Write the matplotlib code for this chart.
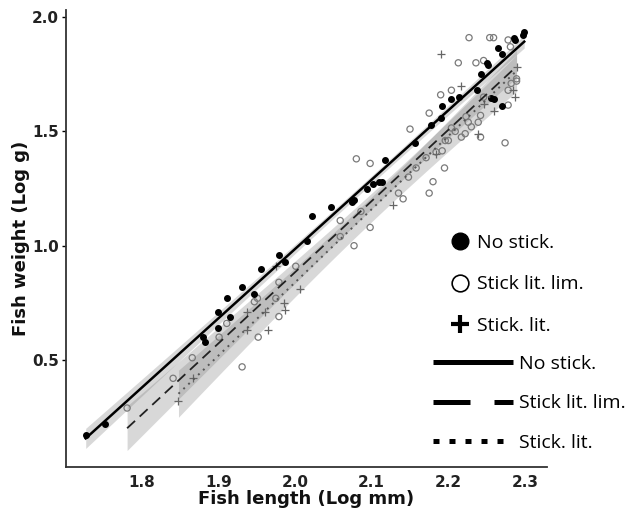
import numpy as np
import matplotlib.pyplot as plt
from matplotlib.lines import Line2D

# No stick. (filled circles)
len_nostick = [1.727, 1.752, 1.880, 1.883, 1.900, 1.900, 1.911, 1.915, 1.931, 1.947,
               1.956, 1.979, 1.987, 2.015, 2.022, 2.047, 2.075, 2.077, 2.094, 2.102,
               2.110, 2.114, 2.118, 2.157, 2.178, 2.190, 2.192, 2.204, 2.214, 2.238,
               2.242, 2.250, 2.252, 2.256, 2.259, 2.265, 2.270, 2.270, 2.286, 2.287,
               2.297, 2.299]
wt_nostick = [0.17, 0.22, 0.60, 0.58, 0.71, 0.64, 0.77, 0.69, 0.82, 0.79,
              0.90, 0.96, 0.93, 1.02, 1.13, 1.17, 1.19, 1.20, 1.25, 1.27,
              1.28, 1.28, 1.375, 1.45, 1.53, 1.56, 1.61, 1.64, 1.65, 1.68,
              1.75, 1.80, 1.79, 1.645, 1.64, 1.865, 1.84, 1.61, 1.91, 1.90,
              1.92, 1.935]

# Stick lit. lim. (open circles)
len_lim = [1.781, 1.841, 1.866, 1.901, 1.911, 1.931, 1.947, 1.951, 1.952, 1.975,
           1.979, 1.979, 2.001, 2.059, 2.059, 2.077, 2.098, 2.080, 2.098, 2.086,
           2.135, 2.141, 2.148, 2.150, 2.158, 2.175, 2.180, 2.171, 2.195, 2.184,
           2.192, 2.196, 2.200, 2.190, 2.204, 2.175, 2.213, 2.227, 2.236, 2.246,
           2.254, 2.259, 2.278, 2.281, 2.289, 2.289, 2.282, 2.278, 2.274, 2.242,
           2.230, 2.222, 2.217, 2.226, 2.239, 2.242, 2.223, 2.204, 2.209, 2.246,
           2.278]
wt_lim = [0.29, 0.42, 0.51, 0.60, 0.66, 0.47, 0.755, 0.77, 0.60, 0.77,
          0.84, 0.69, 0.91, 1.11, 1.04, 1.00, 1.08, 1.38, 1.36, 1.15,
          1.23, 1.205, 1.30, 1.51, 1.34, 1.23, 1.28, 1.385, 1.34, 1.41,
          1.415, 1.46, 1.46, 1.66, 1.68, 1.58, 1.80, 1.91, 1.80, 1.81,
          1.91, 1.91, 1.90, 1.87, 1.73, 1.72, 1.71, 1.68, 1.45, 1.475,
          1.52, 1.49, 1.475, 1.54, 1.54, 1.57, 1.565, 1.515, 1.50, 1.65,
          1.615]

# Stick. lit. (crosses)
len_lit = [1.848, 1.867, 1.938, 1.938, 1.961, 1.965, 1.975, 1.985, 1.987, 2.007,
           2.128, 2.184, 2.191, 2.217, 2.239, 2.246, 2.260, 2.285, 2.287, 2.289]
wt_lit = [0.32, 0.42, 0.71, 0.63, 0.71, 0.63, 0.91, 0.75, 0.72, 0.81,
          1.18, 1.40, 1.84, 1.70, 1.49, 1.62, 1.59, 1.68, 1.65, 1.78]

xticks = [1.8, 1.9, 2.0, 2.1, 2.2, 2.3]
yticks = [0.5, 1.0, 1.5, 2.0]
labels = ['No stick.', 'Stick lit. lim.', 'Stick. lit.']


def lm_band(x, y):
    x = np.asarray(x)
    y = np.asarray(y)
    b, a = np.polyfit(x, y, 1)
    xs = np.linspace(x.min(), x.max(), 100)
    n = len(x)
    s = np.sqrt(np.sum((y - (a + b * x)) ** 2) / (n - 2))
    se = s * np.sqrt(1 / n + (xs - x.mean()) ** 2 / np.sum((x - x.mean()) ** 2))
    return xs, a + b * xs, 1.99 * se


fig = plt.figure(figsize=(6.37, 5.16), dpi=100)
ax = fig.add_axes([66 / 637, 49 / 516, 481 / 637, 457 / 516])

groups = [(len_nostick, wt_nostick, dict(color='black', lw=1.8, ls='-')),
          (len_lim, wt_lim, dict(color='#222222', lw=1.3, dashes=(6, 3.5))),
          (len_lit, wt_lit, dict(color='#555555', lw=1.4, dashes=(1, 2.5)))]
for x, y, style in groups:
    xs, yh, ci = lm_band(x, y)
    ax.fill_between(xs, yh - ci, yh + ci, color='grey', alpha=0.3, lw=0, zorder=1)

ax.scatter(len_lim, wt_lim, s=20, facecolors='none', edgecolors='#7a7a7a', linewidths=0.9, zorder=2)
ax.scatter(len_lit, wt_lit, s=40, marker='+', color='#666666', linewidths=0.9, zorder=2)
ax.scatter(len_nostick, wt_nostick, s=16, color='black', zorder=3)

for x, y, style in groups:
    xs, yh, ci = lm_band(x, y)
    ax.plot(xs, yh, zorder=4, **style)

ax.set_xlim(1.7013, 2.3287)
ax.set_ylim(0.032, 2.031)
ax.set_xticks(xticks)
ax.set_xticklabels([f'{v:.1f}' for v in xticks], fontweight='bold', fontsize=11, color='#222222')
ax.set_yticks(yticks)
ax.set_yticklabels([f'{v:.1f}' for v in yticks], fontweight='bold', fontsize=11, color='#222222')
ax.tick_params(axis='x', length=0, pad=6)
ax.tick_params(axis='y', length=3, width=1, pad=2)
for side in ['top', 'right']:
    ax.spines[side].set_visible(False)
for side in ['left', 'bottom']:
    ax.spines[side].set_linewidth(1.3)
    ax.spines[side].set_color('#333333')

ax.set_xlabel('Fish length (Log mm)', fontsize=13, fontweight='bold', color='#111111')
ax.set_ylabel('Fish weight (Log g)', fontsize=13, fontweight='bold', color='#111111')
ax.xaxis.set_label_coords(0.5, -0.05)
ax.yaxis.set_label_coords(-0.074, 0.5)

leg_font = {'family': 'Open Sans', 'size': 14}
mk_handles = [Line2D([], [], ls='none', marker='o', ms=12, color='black'),
              Line2D([], [], ls='none', marker='o', ms=12, mfc='none', mec='black', mew=1.2),
              Line2D([], [], ls='none', marker='+', ms=13, mew=3, color='black')]
leg1 = ax.legend(mk_handles, labels, loc='upper left', bbox_to_anchor=(450 / 637, 1 - 234 / 516),
                 bbox_transform=fig.transFigure, frameon=False, prop=leg_font,
                 handlelength=1.0, handletextpad=0.4, labelspacing=1.2,
                 borderpad=0, borderaxespad=0)
ax.add_artist(leg1)

ln_handles = [Line2D([], [], color='black', lw=3.6, solid_capstyle='butt'),
              Line2D([], [], color='black', lw=3.6, dashes=(7.4, 4.8), dash_capstyle='butt'),
              Line2D([], [], color='black', lw=3.6, dashes=(1.2, 2.0), dash_capstyle='butt')]
ax.legend(ln_handles, labels, loc='upper left', bbox_to_anchor=(433 / 637, 1 - 355 / 516),
          bbox_transform=fig.transFigure, frameon=False, prop=leg_font,
          handlelength=4.1, handletextpad=0.3, labelspacing=1.1,
          borderpad=0, borderaxespad=0)

fig.savefig('out.png', dpi=100)
